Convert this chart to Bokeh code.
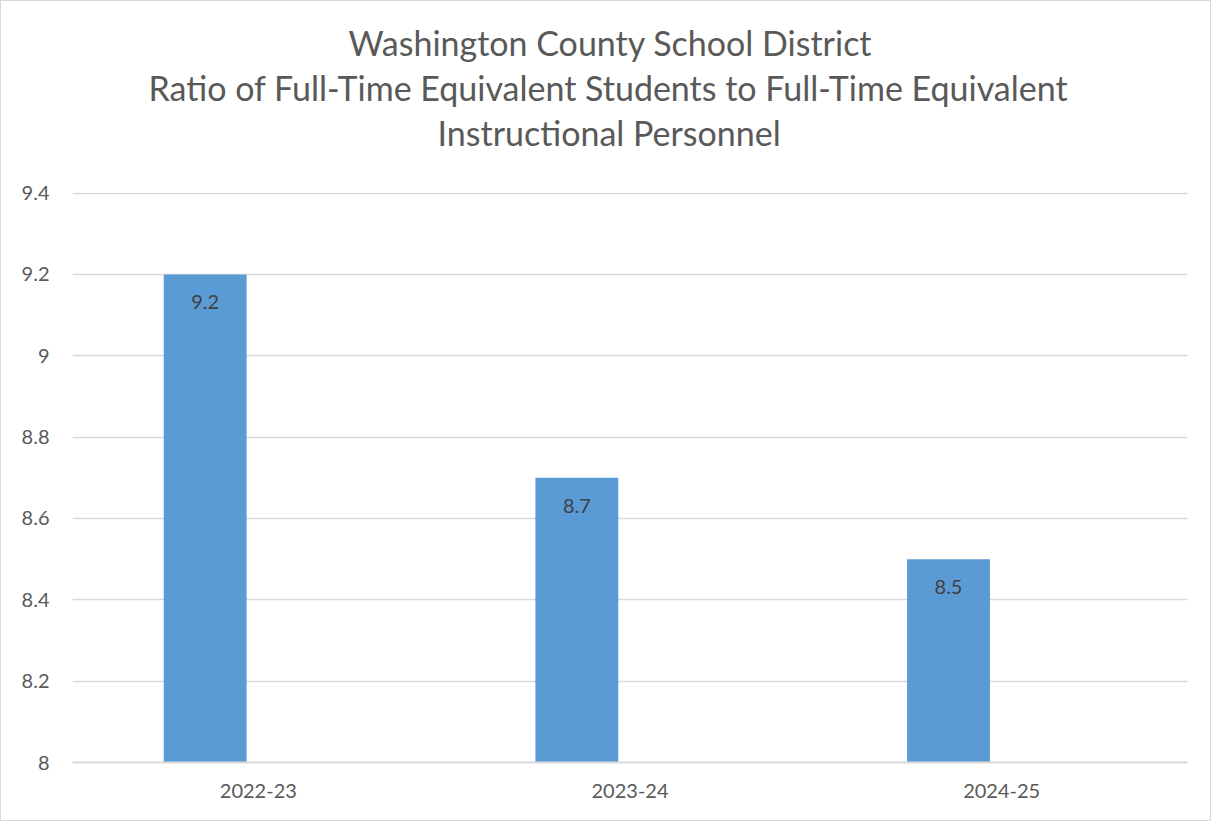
from bokeh.plotting import figure
from bokeh.models import ColumnDataSource, FactorRange, Range1d, LabelSet, Title, NumeralTickFormatter, FixedTicker
from bokeh.core.properties import value
from bokeh.transform import dodge
from bokeh.embed import file_html
from bokeh.resources import INLINE

years = ["2022-23", "2023-24", "2024-25"]
ratios = [9.2, 8.7, 8.5]
ratio_labels = ["9.2", "8.7", "8.5"]
y_ticks = [8.0, 8.2, 8.4, 8.6, 8.8, 9.0, 9.2, 9.4]
title_lines = [
    "Washington County School District",
    "Ratio of Full-Time Equivalent Students to Full-Time Equivalent",
    "Instructional Personnel",
]
# left offsets (px from the frame's left edge) that centre each title line on the chart
title_offsets = [276, 76, 365]

FONT = "Lato"
GRAY = "#595959"
GRID = "#d9d9d9"

src = ColumnDataSource(dict(year=years, ratio=ratios, label=ratio_labels))

p = figure(
    width=1211, height=821,
    x_range=FactorRange(*years, range_padding=0),
    y_range=Range1d(8, 9.4015),
    output_backend="svg", toolbar_location=None,
    min_border_left=71, min_border_right=25, min_border_top=191, min_border_bottom=60,
)
p.styles = {"border": "1px solid #d9d9d9"}
p.outline_line_color = None

p.vbar(x=dodge("year", -0.143, range=p.x_range), top="ratio", bottom=8, width=0.223,
       source=src, fill_color="#5B9BD5", line_color=None)

labels = LabelSet(x=dodge("year", -0.143, range=p.x_range), y="ratio", text="label",
                  y_offset=-35, text_align="center", text_baseline="alphabetic",
                  text_font=value(FONT), text_font_size="20px", text_color="#404040", source=src)
p.add_layout(labels)

# spacer between the frame and the title block
p.add_layout(Title(text=" ", text_font_size="1px", standoff=36), "above")
# title lines, bottom-most first
for line, off in reversed(list(zip(title_lines, title_offsets))):
    p.add_layout(Title(text=line, align="left", offset=off,
                       text_font=FONT, text_font_size="34px", text_font_style="normal",
                       text_color=GRAY, standoff=2), "above")

p.yaxis.ticker = FixedTicker(ticks=y_ticks)
p.yaxis.formatter = NumeralTickFormatter(format="0.[0]")
p.yaxis.axis_line_color = None
p.yaxis.major_tick_line_color = None
p.yaxis.minor_tick_line_color = None
p.yaxis.major_label_standoff = 17
p.yaxis.major_label_text_font = FONT
p.yaxis.major_label_text_font_size = "20px"
p.yaxis.major_label_text_color = GRAY

p.xaxis.axis_line_color = GRID
p.xaxis.axis_line_width = 2
p.xaxis.major_tick_line_color = None
p.xaxis.minor_tick_line_color = None
p.xaxis.major_label_standoff = 15
p.xaxis.major_label_text_font = FONT
p.xaxis.major_label_text_font_size = "20px"
p.xaxis.major_label_text_color = GRAY

p.xgrid.grid_line_color = None
p.ygrid.grid_line_color = GRID
p.ygrid.grid_line_width = 1.5

open("out.html", "w").write(file_html(p, INLINE))
